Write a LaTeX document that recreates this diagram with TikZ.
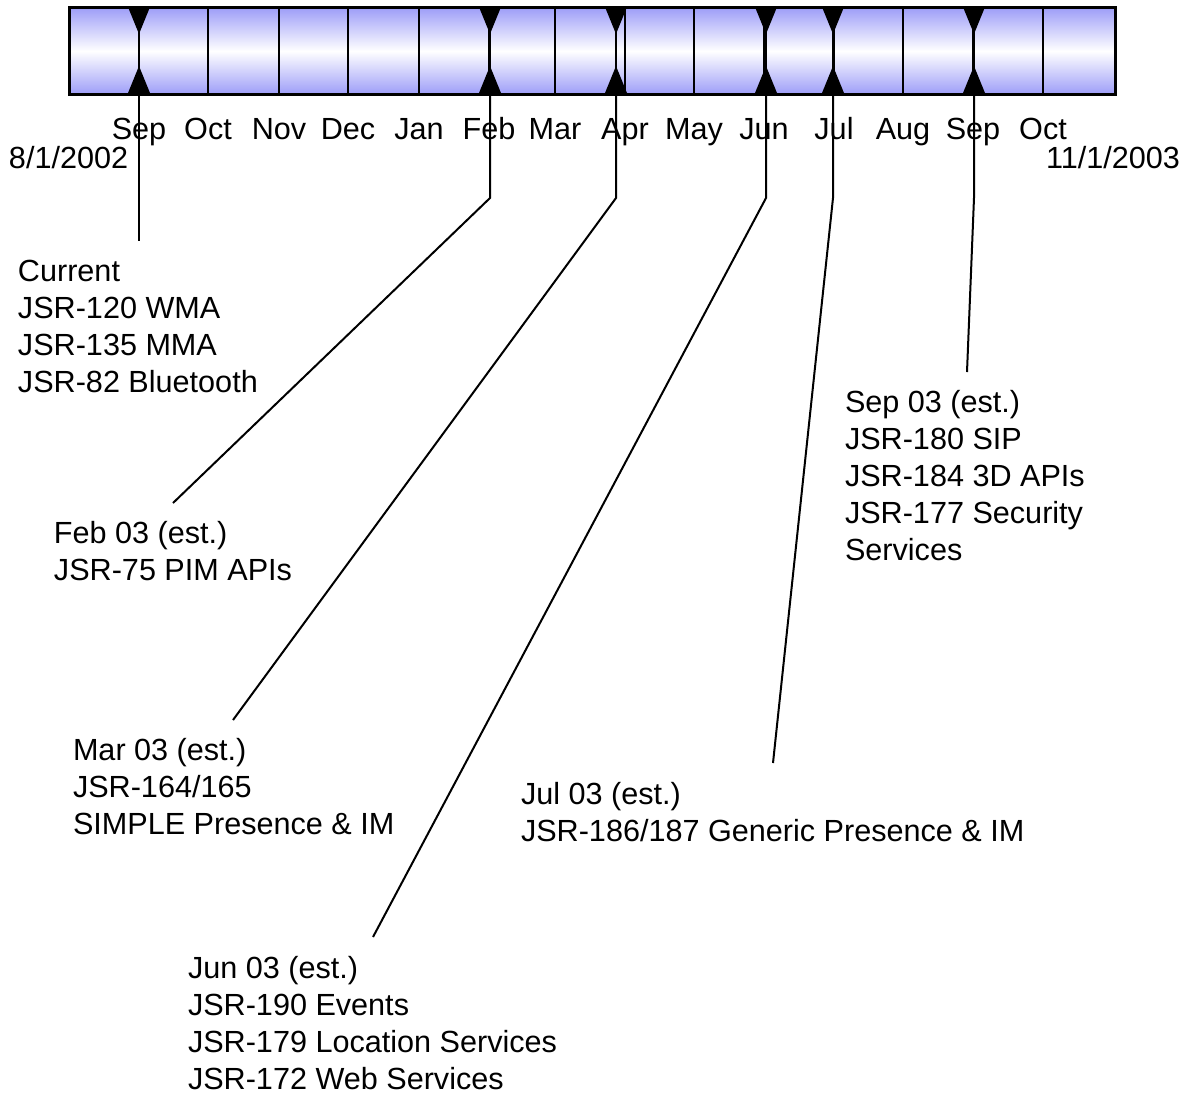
\documentclass[tikz,border=0pt]{standalone}
\usepackage{fontspec}
\setmainfont{Liberation Sans}
\definecolor{barblue}{RGB}{158,158,248}
\begin{document}
\begin{tikzpicture}[x=0.5pt,y=-0.5pt,line width=1pt,
    txt/.style={inner sep=0pt,font=\fontsize{15.3}{18.5}\selectfont},
    lbl/.style={txt,align=left,anchor=base west},
    month/.style={txt,anchor=base}]
  \useasboundingbox (0,0) rectangle (1190,1094);
  \node[draw,anchor=north west,inner sep=0pt,minimum width=522.5pt,minimum height=43pt,
    top color=barblue,bottom color=barblue,middle color=white] (bar) at (69,7) {};
  \foreach \x in {139,208,279,348,419,489,555,625,694,764,834,903,973,1043}
    \draw (\x,7) -- (\x,93);
  \draw (bar.north west) rectangle (bar.south east);
  \foreach \x/\m in {139/Sep,208/Oct,279/Nov,348/Dec,419/Jan,489/Feb,555/Mar,625/Apr,
      694/May,764/Jun,834/Jul,903/Aug,973/Sep,1043/Oct}
    \node[month] (mon-\x) at (\x,139) {\m};
  \node[txt,anchor=base west] (start) at (8,168) {8/1/2002};
  \node[txt,anchor=base east] (end) at (1181,168) {11/1/2003};

  \foreach \x/\n in {139/cur,490/feb,616/mar,766/jun,833/jul,974/sep} {
    \fill (\x-11,7) -- (\x+11,7) -- (\x,34) -- cycle;
    \fill (\x-11,93) -- (\x+11,93) -- (\x,66) -- cycle;
    \draw (\x,7) -- (\x,93);
    \coordinate (\n-top) at (\x,93);
    \coordinate (\n-bend) at (\x,198);
  }

  % base of a multi-line node is its last line
  \node[lbl] (cur) at (17,392) {Current\\JSR-120 WMA\\JSR-135 MMA\\JSR-82 Bluetooth};
  \node[lbl] (feb) at (53,580) {Feb 03 (est.)\\JSR-75 PIM APIs};
  \node[lbl] (mar) at (72,834) {Mar 03 (est.)\\JSR-164/165\\SIMPLE Presence \& IM};
  \node[lbl] (jun) at (187,1089) {Jun 03 (est.)\\JSR-190 Events\\JSR-179 Location Services\\JSR-172 Web Services};
  \node[lbl] (jul) at (520,841) {Jul 03 (est.)\\JSR-186/187 Generic Presence \& IM};
  \node[lbl] (sep) at (844,560) {Sep 03 (est.)\\JSR-180 SIP\\JSR-184 3D APIs\\JSR-177 Security\\Services};

  \coordinate (cur-end) at (139,241);
  \coordinate (feb-end) at (173,503);
  \coordinate (mar-end) at (233,720);
  \coordinate (jun-end) at (373,937);
  \coordinate (jul-end) at (773,763);
  \coordinate (sep-end) at (967,372);
  \foreach \n in {cur,feb,mar,jun,jul,sep}
    \draw (\n-top) -- (\n-bend) -- (\n-end);
\end{tikzpicture}
\end{document}
